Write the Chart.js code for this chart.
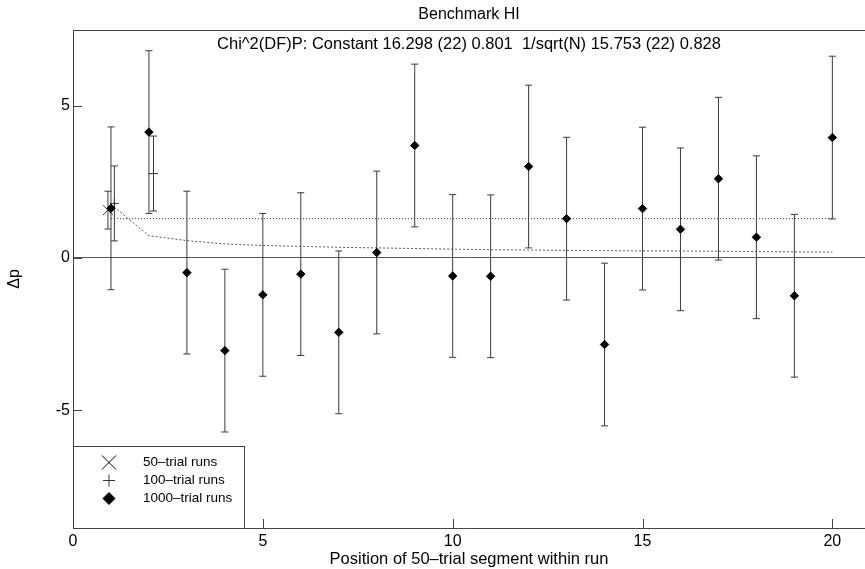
<!doctype html>
<html lang="en">
  <head>
    <meta charset="utf-8">
    <title>Benchmark HI</title>
    <script src="https://cdn.jsdelivr.net/npm/chart.js@4.4.1/dist/chart.umd.min.js"></script>
    <style>
      body { margin: 0; background: #fff; }
    </style>
  </head>
  <body>
    <canvas id="benchChart" width="865" height="569"></canvas>

    <script>
        // 1000-trial runs: one point per 50-trial segment position
        const pos1000 = [1, 2, 3, 4, 5, 6, 7, 8, 9, 10, 11, 12, 13, 14, 15, 16, 17, 18, 19, 20];
        const val1000 = [1.63, 4.13, -0.48, -3.04, -1.21, -0.53, -2.44, 0.18, 3.69, -0.59,
                         -0.60, 3.00, 1.29, -2.84, 1.62, 0.94, 2.60, 0.68, -1.24, 3.95];
        const err1000 = [2.67, 2.67, 2.67, 2.67, 2.67, 2.67, 2.67, 2.67, 2.67, 2.67,
                         2.67, 2.67, 2.67, 2.67, 2.67, 2.67, 2.67, 2.67, 2.67, 2.67];

        // 100-trial runs
        const pos100 = [1.09, 2.12];
        const val100 = [1.79, 2.77];
        const err100 = [1.23, 1.23];

        // 50-trial runs
        const pos50 = [0.92];
        const val50 = [1.57];
        const err50 = [0.62];

        // fits
        const constFitX = [1, 20];
        const constFitY = [1.29, 1.29];
        const sqrtFitX = [1, 2, 3, 4, 5, 6, 7, 8, 9, 10, 11, 12, 13, 14, 15, 16, 17, 18, 19, 20];
        const sqrtFitY = [1.76, 0.73, 0.57, 0.46, 0.41, 0.38, 0.35, 0.33, 0.31, 0.29,
                          0.27, 0.26, 0.25, 0.24, 0.23, 0.23, 0.22, 0.21, 0.20, 0.19];

        // axes
        const xTicks = [0, 5, 10, 15, 20];
        const yTicks = [-5, 0, 5];

        const titleText = 'Benchmark HI';
        const subtitleText = 'Chi^2(DF)P: Constant 16.298 (22) 0.801  1/sqrt(N) 15.753 (22) 0.828';
        const legendLabels = ['50\u2013trial runs', '100\u2013trial runs', '1000\u2013trial runs'];

        const FONT = '"Liberation Sans", Arial, Helvetica, sans-serif';
        const AXIS_COLOR = '#444';

        function toPoints(xs, ys) {
            return xs.map(function (x, i) { return { x: x, y: ys[i] }; });
        }

        // error bars, inward ticks, top border and the in-plot subtitle
        const framePlugin = {
            id: 'frame',
            beforeDatasetsDraw(chart) {
                const ctx = chart.ctx;
                const area = chart.chartArea;
                const xs = chart.scales.x;
                const ys = chart.scales.y;
                ctx.save();
                ctx.strokeStyle = AXIS_COLOR;
                ctx.lineWidth = 1;
                ctx.beginPath();
                // top border
                ctx.moveTo(area.left, Math.round(area.top) + 0.5);
                ctx.lineTo(area.right, Math.round(area.top) + 0.5);
                // inward ticks
                xTicks.forEach(function (v) {
                    const px = Math.round(xs.getPixelForValue(v)) + 0.5;
                    ctx.moveTo(px, area.bottom);
                    ctx.lineTo(px, area.bottom - 9);
                });
                yTicks.forEach(function (v) {
                    const py = Math.round(ys.getPixelForValue(v)) + 0.5;
                    ctx.moveTo(area.left, py);
                    ctx.lineTo(area.left + 9, py);
                });
                ctx.stroke();

                // error bars
                ctx.strokeStyle = '#3a3a3a';
                chart.data.datasets.forEach(function (ds) {
                    if (!ds.errors) return;
                    ctx.beginPath();
                    ds.data.forEach(function (p, i) {
                        const px = xs.getPixelForValue(p.x);
                        const top = ys.getPixelForValue(p.y + ds.errors[i]);
                        const bot = ys.getPixelForValue(p.y - ds.errors[i]);
                        ctx.moveTo(px, top);
                        ctx.lineTo(px, bot);
                        ctx.moveTo(px - 3.5, top);
                        ctx.lineTo(px + 3.5, top);
                        ctx.moveTo(px - 3.5, bot);
                        ctx.lineTo(px + 3.5, bot);
                    });
                    ctx.stroke();
                });

                // subtitle inside the plot
                ctx.fillStyle = '#000';
                ctx.font = '16.5px ' + FONT;
                ctx.textAlign = 'center';
                ctx.textBaseline = 'middle';
                ctx.fillText(subtitleText, (area.left + area.right) / 2, area.top + 14);
                ctx.restore();
            },
            afterDraw(chart) {
                // legend box in the lower left corner
                const ctx = chart.ctx;
                const area = chart.chartArea;
                const boxLeft = Math.round(area.left) + 0.5;
                const boxTop = 446.5;
                const boxRight = 244.5;
                const boxBottom = Math.round(area.bottom) + 0.5;
                ctx.save();
                ctx.fillStyle = '#fff';
                ctx.fillRect(boxLeft, boxTop, boxRight - boxLeft, boxBottom - boxTop);
                ctx.strokeStyle = AXIS_COLOR;
                ctx.lineWidth = 1;
                ctx.strokeRect(boxLeft, boxTop, boxRight - boxLeft, boxBottom - boxTop);

                const styles = [
                    { pointStyle: 'crossRot', radius: 10, borderWidth: 1, rotation: 0 },
                    { pointStyle: 'cross', radius: 6, borderWidth: 1, rotation: 0 },
                    { pointStyle: 'rectRot', radius: 6, borderWidth: 1, rotation: 0 }
                ];
                ctx.font = '13.5px ' + FONT;
                ctx.textAlign = 'left';
                ctx.textBaseline = 'middle';
                legendLabels.forEach(function (label, i) {
                    const y = 462.5 + i * 18;
                    ctx.strokeStyle = i === 1 ? '#333' : '#000';
                    ctx.fillStyle = '#000';
                    Chart.helpers.drawPoint(ctx, styles[i], 109, y);
                    ctx.fillStyle = '#000';
                    ctx.fillText(label, 143, y);
                });
                ctx.restore();
            }
        };

        const ctx = document.getElementById('benchChart').getContext('2d');
        const chart = new Chart(ctx, {
            type: 'scatter',
            data: {
                datasets: [
                    {
                        label: legendLabels[2],
                        data: toPoints(pos1000, val1000),
                        errors: err1000,
                        pointStyle: 'rectRot',
                        pointRadius: 4.2,
                        backgroundColor: '#000',
                        borderColor: '#000',
                        borderWidth: 1
                    },
                    {
                        label: legendLabels[1],
                        data: toPoints(pos100, val100),
                        errors: err100,
                        pointStyle: 'cross',
                        pointRadius: 4.5,
                        borderColor: '#333',
                        borderWidth: 1
                    },
                    {
                        label: legendLabels[0],
                        data: toPoints(pos50, val50),
                        errors: err50,
                        pointStyle: 'crossRot',
                        pointRadius: 7,
                        borderColor: '#333',
                        borderWidth: 1
                    },
                    {
                        label: 'Constant',
                        data: toPoints(constFitX, constFitY),
                        showLine: true,
                        pointRadius: 0,
                        borderColor: '#333',
                        borderWidth: 1,
                        borderDash: [1, 2]
                    },
                    {
                        label: '1/sqrt(N)',
                        data: toPoints(sqrtFitX, sqrtFitY),
                        showLine: true,
                        pointRadius: 0,
                        borderColor: '#555',
                        borderWidth: 1,
                        borderDash: [2, 2]
                    }
                ]
            },
            plugins: [framePlugin],
            options: {
                responsive: false,
                animation: false,
                events: [],
                layout: { padding: 0, autoPadding: false },
                scales: {
                    x: {
                        type: 'linear',
                        min: 0,
                        max: 20.86,
                        afterFit: function (s) {
                            s.height = 41;
                            s.paddingLeft = 0;
                            s.paddingRight = 0;
                        },
                        afterBuildTicks: function (s) { s.ticks = xTicks.map(function (v) { return { value: v }; }); },
                        grid: { display: false, drawTicks: false },
                        border: { display: true, color: AXIS_COLOR, width: 1 },
                        ticks: {
                            padding: 4,
                            color: '#000',
                            font: { family: FONT, size: 16 },
                            maxRotation: 0
                        },
                        title: {
                            display: true,
                            text: 'Position of 50\u2013trial segment within run',
                            color: '#000',
                            font: { family: FONT, size: 16.5 },
                            padding: { top: 0, bottom: 0 }
                        }
                    },
                    y: {
                        type: 'linear',
                        min: -8.86,
                        max: 7.48,
                        afterFit: function (s) {
                            s.width = 73;
                            s.paddingTop = 0;
                            s.paddingBottom = 0;
                        },
                        afterBuildTicks: function (s) { s.ticks = yTicks.map(function (v) { return { value: v }; }); },
                        grid: {
                            drawTicks: false,
                            color: function (c) { return c.tick && c.tick.value === 0 ? '#555' : 'rgba(0,0,0,0)'; }
                        },
                        border: { display: true, color: AXIS_COLOR, width: 1 },
                        ticks: {
                            padding: 3,
                            color: '#000',
                            font: { family: FONT, size: 16 }
                        },
                        title: {
                            display: true,
                            text: '\u0394p',
                            color: '#000',
                            font: { family: FONT, size: 16 },
                            padding: { top: 5, bottom: 0 }
                        }
                    }
                },
                plugins: {
                    legend: { display: false },
                    tooltip: { enabled: false },
                    title: {
                        display: true,
                        fullSize: false,
                        text: titleText,
                        color: '#000',
                        font: { family: FONT, size: 16, weight: 'normal' },
                        padding: { top: 5, bottom: 5.8 }
                    }
                }
            }
        });
    </script>
  </body>
</html>
